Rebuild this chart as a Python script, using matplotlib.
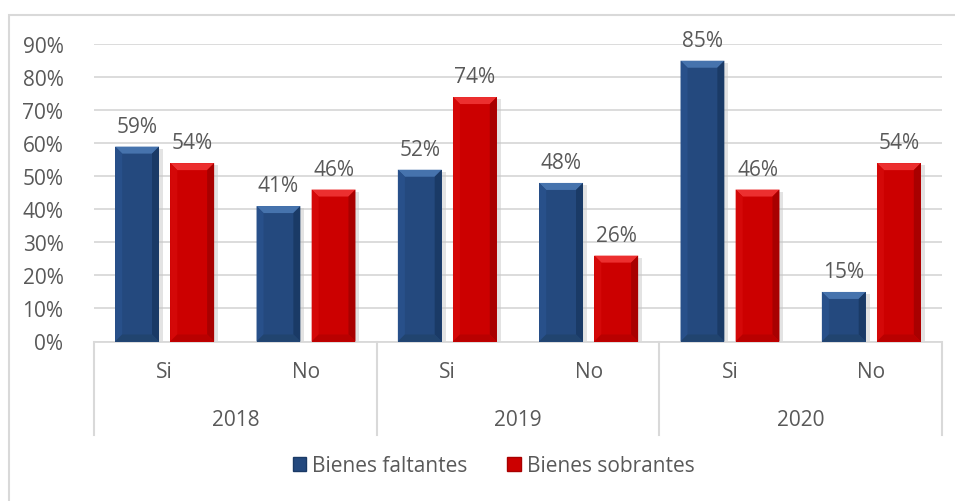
import matplotlib
matplotlib.use("Agg")
import matplotlib.pyplot as plt
import numpy as np
from matplotlib.patches import Polygon, Rectangle, Patch
from matplotlib.lines import Line2D
import matplotlib.transforms as mtransforms

plt.rcParams['font.family'] = ['Open Sans', 'DejaVu Sans']

years = ["2018", "2019", "2020"]
answers = ["Si", "No", "Si", "No", "Si", "No"]
series_names = ["Bienes faltantes", "Bienes sobrantes"]
faltantes = [0.59, 0.41, 0.52, 0.48, 0.85, 0.15]
sobrantes = [0.54, 0.46, 0.74, 0.26, 0.46, 0.54]
yticks = [0, 0.1, 0.2, 0.3, 0.4, 0.5, 0.6, 0.7, 0.8, 0.9]

W, H = 955, 502
fig = plt.figure(figsize=(W / 100, H / 100), dpi=100)
ax_left, ax_right, ax_top, ax_bot = 94, 942, 45.2, 342.5
ax = fig.add_axes([ax_left / W, 1 - ax_bot / H, (ax_right - ax_left) / W, (ax_bot - ax_top) / H])

txt_color = "#595959"
grid_color = "#d9d9d9"
fs = 15

x = np.arange(len(answers))
bw = 0.31
off = 0.195

styles = [
    dict(main="#24497e", top="#4673ad", left="#28508a", right="#1a3a66", bottom="#21446f"),
    dict(main="#cc0000", top="#ec2f2f", left="#d40808", right="#a80000", bottom="#b90000"),
]

px_x = 1.0 / ((ax_right - ax_left) / 6.0)
px_y = 0.9 / (ax_bot - ax_top)

for i, (vals, st) in enumerate(zip([faltantes, sobrantes], styles)):
    bars = ax.bar(x + (-off if i == 0 else off), vals, width=bw, color=st["main"], zorder=3)
    for b, v in zip(bars, vals):
        bx, bwid, bh = b.get_x(), b.get_width(), b.get_height()
        dx, dy = 7 * px_x, 7 * px_y
        # soft shadow
        ax.add_patch(Rectangle((bx + 2 * px_x, 0), bwid + 2 * px_x, bh - 2 * px_y, color="#c8c8c8",
                               alpha=0.5, zorder=2, lw=0))
        ax.add_patch(Polygon([(bx, bh), (bx + bwid, bh), (bx + bwid - dx, bh - dy), (bx + dx, bh - dy)],
                             closed=True, color=st["top"], lw=0, zorder=4))
        ax.add_patch(Polygon([(bx, 0), (bx, bh), (bx + dx, bh - dy), (bx + dx, dy)],
                             closed=True, color=st["left"], lw=0, zorder=4))
        ax.add_patch(Polygon([(bx + bwid, 0), (bx + bwid, bh), (bx + bwid - dx, bh - dy), (bx + bwid - dx, dy)],
                             closed=True, color=st["right"], lw=0, zorder=4))
        ax.add_patch(Polygon([(bx, 0), (bx + bwid, 0), (bx + bwid - dx, dy), (bx + dx, dy)],
                             closed=True, color=st["bottom"], lw=0, zorder=4))
        ax.annotate(f"{round(v * 100):d}%", (bx + bwid / 2, bh), xytext=(0, 7), textcoords="offset points",
                    ha="center", va="bottom", fontsize=fs, color=txt_color, zorder=5)

ax.set_xlim(-0.5, len(answers) - 0.5)
ax.set_ylim(0, 0.9)
ax.set_yticks(yticks)
ax.set_yticklabels([f"{int(round(t * 100))}%" for t in yticks], fontsize=fs, color=txt_color)
ax.yaxis.grid(True, color=grid_color, lw=1.3, zorder=0)
ax.set_axisbelow(True)
ax.tick_params(axis="y", length=0, pad=22)
ax.tick_params(axis="x", length=0)
ax.set_xticks([])
for s in ["top", "right", "left"]:
    ax.spines[s].set_visible(False)
ax.spines["bottom"].set_color(grid_color)
ax.spines["bottom"].set_linewidth(1.3)

trans = mtransforms.blended_transform_factory(ax.transData, ax.transAxes)
plot_h = ax_bot - ax_top
y_sub = -(373 - ax_bot) / plot_h
y_year = -(421 - ax_bot) / plot_h
y_sep = -(436 - ax_bot) / plot_h
for xi, a in zip(x, answers):
    ax.text(xi, y_sub, a, transform=trans, ha="center", va="center", fontsize=fs, color=txt_color)
for j, yr in enumerate(years):
    ax.text(2 * j + 0.5, y_year, yr, transform=trans, ha="center", va="center", fontsize=fs, color=txt_color)
for sx in [-0.5, 1.5, 3.5, 5.5]:
    ax.add_line(Line2D([sx, sx], [0, y_sep], transform=trans, color=grid_color, lw=1.5, clip_on=False))

handles = [Patch(facecolor=styles[0]["main"], edgecolor=styles[0]["right"]),
           Patch(facecolor=styles[1]["main"], edgecolor=styles[1]["right"])]
fig.legend(handles, series_names, loc="center", bbox_to_anchor=(0.517, 1 - 467 / H), ncol=2,
           frameon=False, fontsize=fs, labelcolor=txt_color, handlelength=0.65, handleheight=0.65,
           handletextpad=0.3, columnspacing=1.9)

fig.add_artist(Rectangle((8.5 / W, -0.1), 2, 1 - 16 / H + 0.1, transform=fig.transFigure,
                         fill=False, edgecolor=grid_color, lw=1.5))

fig.savefig("out.png", dpi=100)
